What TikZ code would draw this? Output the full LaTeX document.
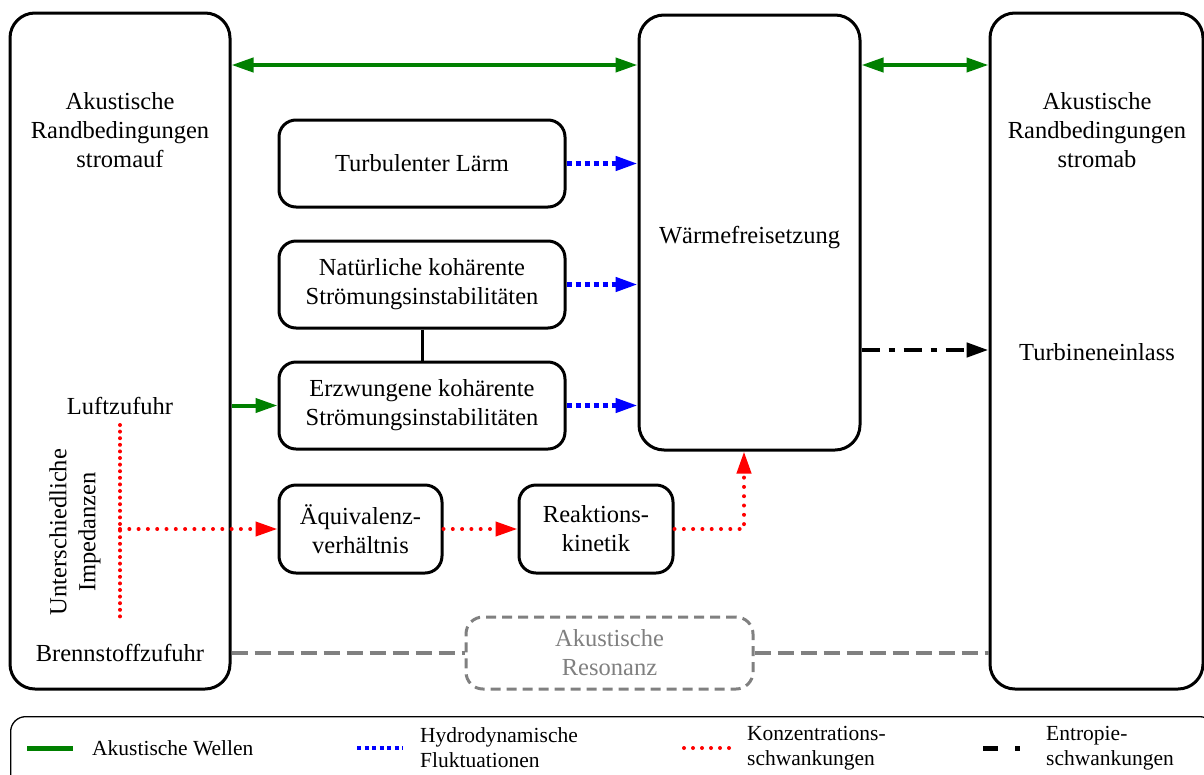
\documentclass[tikz,border=0pt]{standalone}
\usepackage{fontspec}
\setmainfont{Liberation Serif}
\usetikzlibrary{arrows.meta}
\definecolor{wavegreen}{RGB}{0,128,0}
\definecolor{resgray}{RGB}{128,128,128}
\begin{document}
\begin{tikzpicture}[x=1pt,y=-1pt,
  every node/.style={font=\fontsize{24.5}{29}\selectfont},
  legtext/.style={font=\fontsize{21.5}{25}\selectfont,align=left,anchor=west,inner sep=0pt},
  bigbox/.style={draw,line width=3pt,rounded corners=25pt,inner sep=0pt},
  smallbox/.style={draw,line width=3pt,rounded corners=17pt,inner sep=0pt,align=center},
  dashbox/.style={draw=resgray,text=resgray,line width=3pt,dash pattern=on 10pt off 6pt,
    rounded corners=17pt,inner sep=0pt,align=center},
  txt/.style={align=center,inner sep=0pt},
  tip/.style={-{Triangle[length=22pt,width=14pt]}},
  bothtips/.style={{Triangle[length=22pt,width=14pt]}-{Triangle[length=22pt,width=14pt]}},
  acoustic/.style={draw=wavegreen,line width=4pt},
  hydro/.style={draw=blue,line width=4.5pt,dash pattern=on 5pt off 4pt},
  conc/.style={draw=red,line width=4pt,line cap=round,dash pattern=on 0pt off 9.3pt},
  concv/.style={draw=red,line width=4pt,line cap=round,dash pattern=on 0pt off 6.6pt},
  entropy/.style={draw=black,line width=4.5pt,dash pattern=on 18pt off 9pt on 6pt off 9pt},
  reson/.style={draw=resgray,line width=3.5pt,dash pattern=on 16pt off 7pt},
]
\useasboundingbox (0,0) rectangle (1204,774);

% main blocks
\node[bigbox,minimum width=220pt,minimum height=676pt] (up) at (120,351) {};
\node[bigbox,minimum width=221pt,minimum height=435pt] (heat) at (749.5,232.5) {};
\node[bigbox,minimum width=213pt,minimum height=676pt] (down) at (1096.5,351) {};

\node[smallbox,minimum width=286pt,minimum height=87pt] (turb) at (422,163.5) {Turbulenter Lärm};
\node[smallbox,minimum width=286pt,minimum height=87pt] (nat) at (422,284.5)
  {Natürliche kohärente\\Strömungsinstabilitäten};
\node[smallbox,minimum width=286pt,minimum height=87pt] (forc) at (422,405.5)
  {Erzwungene kohärente\\Strömungsinstabilitäten};
\node[smallbox,minimum width=163pt,minimum height=88pt] (equiv) at (360.5,529)
  {Äquivalenz-\\verhältnis};
\node[smallbox,minimum width=154pt,minimum height=88pt] (kin) at (596,529)
  {Reaktions-\\kinetik};
\node[dashbox,minimum width=287pt,minimum height=72pt] (res) at (609.5,653)
  {Akustische\\Resonanz};

% labels inside the large blocks
\node[txt] (upT) at (120,130) {Akustische\\Randbedingungen\\stromauf};
\node[txt] (air) at (120,406) {Luftzufuhr};
\node[txt] (fuel) at (120,653) {Brennstoffzufuhr};
\node[txt,rotate=90] (imp) at (75,532) {Unterschiedliche\\Impedanzen};
\node[txt] (heatT) at (749.5,238) {Wärmefreisetzung};
\node[txt] (downT) at (1097,130) {Akustische\\Randbedingungen\\stromab};
\node[txt] (turbine) at (1097,352) {Turbineneinlass};

% helper coordinates
\coordinate (topline) at (0,65);
\coordinate (entline) at (0,350);
\coordinate (impTop) at (120,425);
\coordinate (impBot) at (120,622);
\coordinate (impMid) at (120,529);

% acoustic waves
\draw[acoustic,bothtips] (up.east |- topline) -- (heat.west |- topline);
\draw[acoustic,bothtips] (heat.east |- topline) -- (down.west |- topline);
\draw[acoustic,tip] (up.east |- forc.west) -- (forc.west);

% hydrodynamic fluctuations
\draw[hydro,tip] (turb.east) -- (turb.east -| heat.west);
\draw[hydro,tip] (nat.east) -- (nat.east -| heat.west);
\draw[hydro,tip] (forc.east) -- (forc.east -| heat.west);
\draw[black,line width=3pt] (nat.south) -- (forc.north);

% concentration fluctuations
\draw[concv] (impTop) -- (impBot);
\draw[conc,tip] (impMid) -- (equiv.west);
\draw[conc,tip] (equiv.east) -- (kin.west);
\draw[conc,tip] (kin.east) -| ([xshift=-5.5pt]heat.south);

% entropy fluctuations
\draw[entropy,tip] (heat.east |- entline) -- (down.west |- entline);

% acoustic resonance
\draw[reson] (up.east |- res.west) -- (res.west);
\draw[reson] (res.east) -- (down.west |- res.east);

% legend
\node[draw,line width=1.3pt,rounded corners=15pt,minimum width=1204pt,minimum height=80pt,
  anchor=north west,inner sep=0pt] (legend) at (10,716) {};
\draw[draw=wavegreen,line width=5pt] (27,748) -- (73,748);
\node[legtext] (l1) at (92,748) {Akustische Wellen};
\draw[draw=blue,line width=4.5pt,dash pattern=on 4pt off 3.5pt] (357,748) -- (403,748);
\node[legtext] (l2) at (420,748) {Hydrodynamische\\Fluktuationen};
\draw[draw=red,line width=4pt,line cap=round,dash pattern=on 0pt off 9pt] (684,748) -- (730,748);
\node[legtext] (l3) at (747,748) {Konzentrations-\\schwankungen};
\draw[draw=black,line width=5pt,dash pattern=on 15pt off 17pt on 5pt off 20pt] (983,748) -- (1021,748);
\node[legtext] (l4) at (1046,748) {Entropie-\\schwankungen};
\end{tikzpicture}
\end{document}
